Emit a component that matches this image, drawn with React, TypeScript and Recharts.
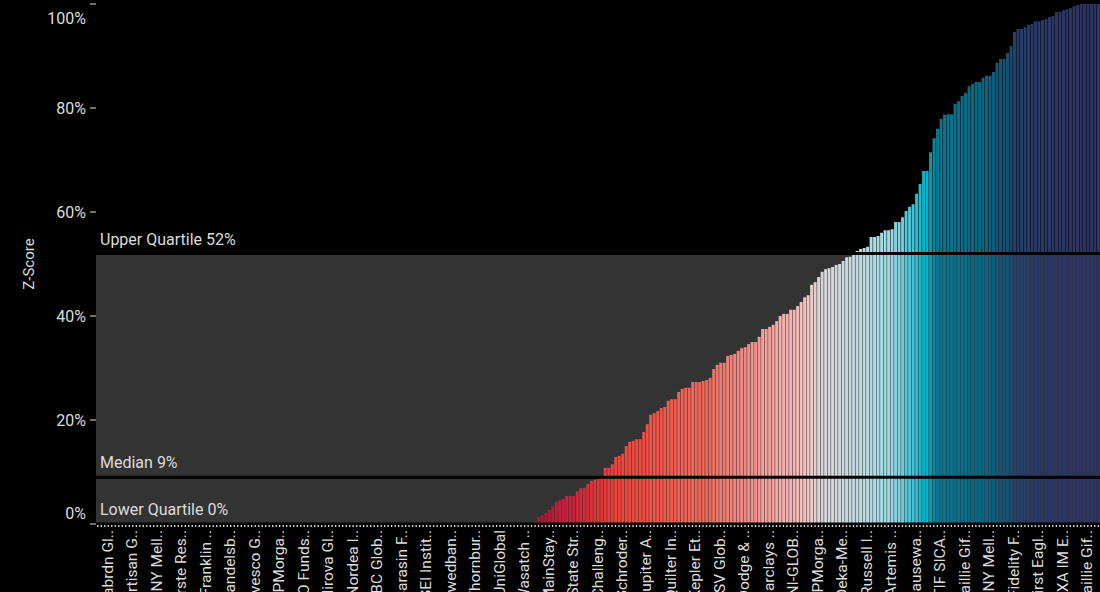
import { BarChart, Bar, Cell, XAxis, YAxis, ReferenceArea, ReferenceLine, Label } from "recharts";

// fund labels shown under every 7th bar
const tickLabels = [
  "abrdn Gl..", "Artisan G..", "BNY Mell..", "Erste Res..", "Franklin ..", "Handelsb..",
  "Invesco G..", "JPMorga..", "LO Funds..", "Mirova Gl..", "Nordea I..", "RBC Glob..",
  "Sarasin F..", "SEI Instit..", "Swedban..", "Thornbur..", "UniGlobal", "Wasatch ..",
  "MainStay..", "State Str..", "Challeng..", "Schroder..", "Jupiter A..", "Quilter In..",
  "Kepler Et..", "LSV Glob..", "Dodge & ..", "Barclays ..", "UNI-GLOB..", "JPMorga..",
  "Deka-Me..", "Russell I..", "Artemis ..", "Hausewa..", "LTIF SICA..", "Baillie Gif..",
  "BNY Mell..", "Fidelity F..", "First Eagl..", "AXA IM E..", "Baillie Gif..",
];

// funds with a score of 0%
const zeroScores = [
  0, 0, 0, 0, 0, 0, 0, 0, 0, 0, 0, 0, 0, 0, 0, 0, 0, 0, 0, 0, 0, 0, 0, 0, 0,
  0, 0, 0, 0, 0, 0, 0, 0, 0, 0, 0, 0, 0, 0, 0, 0, 0, 0, 0, 0, 0, 0, 0, 0, 0,
  0, 0, 0, 0, 0, 0, 0, 0, 0, 0, 0, 0, 0, 0, 0, 0, 0, 0, 0, 0, 0, 0, 0, 0, 0,
  0, 0, 0, 0, 0, 0, 0, 0, 0, 0, 0, 0, 0, 0, 0, 0, 0, 0, 0, 0, 0, 0, 0, 0, 0,
  0, 0, 0, 0, 0, 0, 0, 0, 0, 0, 0, 0, 0, 0, 0, 0, 0, 0, 0, 0, 0, 0, 0, 0, 0,
];

// remaining funds, sorted ascending (%)
const positiveScores = [
  0.5, 1.3, 1.7, 2.1, 2.7, 3.4, 4.2, 4.6, 4.8, 5.4,
  5.4, 5.4, 6.3, 6.9, 6.9, 7.7, 8.3, 8.5, 8.7, 9.0,
  10.8, 10.8, 11.5, 12.9, 13.1, 13.5, 15.0, 15.8, 16.0, 16.3,
  16.3, 17.7, 19.2, 21.0, 21.3, 21.7, 22.3, 22.5, 23.7, 24.0,
  24.0, 25.4, 26.0, 26.2, 26.2, 27.3, 27.3, 27.3, 27.5, 27.7,
  28.1, 29.8, 30.6, 31.0, 31.0, 32.3, 32.5, 32.7, 33.3, 33.8,
  34.0, 34.6, 35.0, 35.0, 36.0, 37.5, 37.5, 37.9, 38.3, 39.0,
  40.0, 40.4, 40.4, 41.2, 41.2, 41.9, 42.7, 43.6, 44.0, 46.0,
  46.5, 47.5, 48.5, 49.0, 49.2, 49.4, 49.8, 50.0, 50.6, 51.3,
  51.4, 52.2, 52.5, 52.9, 53.1, 53.3, 55.2, 55.2, 55.4, 56.0,
  56.5, 56.5, 56.7, 58.1, 58.1, 59.0, 60.2, 61.0, 61.5, 63.5,
  65.4, 67.9, 67.9, 71.5, 74.2, 76.0, 77.9, 78.7, 78.8, 78.8,
  80.8, 81.3, 82.3, 82.9, 84.2, 84.6, 85.0, 85.0, 85.8, 86.2,
  86.2, 86.9, 88.7, 89.4, 89.4, 90.6, 91.9, 94.6, 95.2, 95.2,
  95.6, 96.0, 96.2, 96.7, 96.7, 96.9, 97.1, 97.5, 97.7, 98.5,
  98.5, 98.8, 99.0, 99.2, 99.6, 99.8, 100, 100, 100, 100,
  100, 100,
];

const lowerQuartile = 0;
const median = 9;
const upperQuartile = 52;
const yTicks = [0, 20, 40, 60, 80, 100];

const colorStops: [number, string][] = [
  [0, "#a0103a"], [4, "#c41a3a"], [8, "#e02f38"], [12, "#f2413a"], [20, "#f44f42"],
  [28, "#f2685a"], [31, "#f07a70"], [36, "#f39890"], [40, "#f5b0ac"], [44, "#f6c4c3"],
  [47.5, "#ddd3d6"], [52, "#c3d9df"], [55, "#b0dde6"], [57.5, "#93d5e2"], [59.5, "#60c9da"],
  [63.5, "#20bfd3"], [68, "#0fb1c8"], [72, "#0a95ac"], [76, "#0b7993"], [85, "#0b6883"],
  [88, "#0f5c7b"], [90.6, "#1a4f72"], [95, "#243f6a"], [97, "#2a3865"], [100, "#2d3460"],
];

function hexToRgb(h: string) {
  return [1, 3, 5].map((i) => parseInt(h.slice(i, i + 2), 16));
}

function scoreColor(v: number): string {
  for (let i = 1; i < colorStops.length; i++) {
    const [v1, c1] = colorStops[i];
    if (v <= v1) {
      const [v0, c0] = colorStops[i - 1];
      const t = (v - v0) / (v1 - v0);
      const a = hexToRgb(c0);
      const b = hexToRgb(c1);
      return `rgb(${a.map((x, k) => Math.round(x + (b[k] - x) * t)).join(",")})`;
    }
  }
  return colorStops[colorStops.length - 1][1];
}

const scores = [...zeroScores, ...positiveScores];
const data = scores.map((score, idx) => ({ idx, score }));

const FONT = "Roboto, 'DejaVu Sans', sans-serif";
const TEXT = "#dcdcdc";

function FundTick(props: any) {
  const { x, y, payload } = props;
  const i = payload.value as number;
  const label = i % 7 === 0 ? tickLabels[i / 7] : null;
  const lx = x + 10;
  const ly = y + 6;
  return (
    <g>
      <rect x={x - 0.6} y={y + 1} width={1.3} height={2} fill={TEXT} />
      {label && (
        <text
          x={lx} y={ly} transform={`rotate(-90, ${lx}, ${ly})`}
          textAnchor="end" dominantBaseline="central"
          fill={TEXT} fontSize={15.5} fontFamily={FONT}
        >
          {label}
        </text>
      )}
    </g>
  );
}

function ScoreTick(props: any) {
  const { x, y, payload } = props;
  // keep the extreme labels inside the plot
  const shift = payload.value === 100 ? 9 : payload.value === 0 ? -11 : 0;
  return (
    <text x={x - 2} y={y + shift} textAnchor="end" dominantBaseline="central"
      fill={TEXT} fontSize={16} fontFamily={FONT}>
      {`${payload.value}%`}
    </text>
  );
}

function quartileLabel(text: string) {
  return (p: any) => (
    <text x={p.viewBox.x + 4} y={p.viewBox.y - 9} fill={TEXT} fontSize={16} fontFamily={FONT}>
      {text}
    </text>
  );
}

export default function App() {
  return (
    <div style={{ position: "absolute", left: 0, top: 0, width: 1100, height: 592, background: "#000" }}>
      <BarChart
        width={1100} height={592} data={data}
        margin={{ top: 4, right: 0, left: 0, bottom: 0 }}
        barCategoryGap="14%"
      >
        <XAxis
          dataKey="idx" interval={0} height={68}
          tick={<FundTick />} tickLine={false} axisLine={false}
          tickSize={0} tickMargin={0}
        />
        <YAxis
          width={96} domain={[0, 100]} ticks={yTicks}
          tick={<ScoreTick />} tickLine={{ stroke: TEXT }} axisLine={false}
          tickSize={6} tickMargin={2}
        >
          <Label
            content={(p: any) => {
              const vb = p.viewBox;
              const cx = 29;
              const cy = vb.y + vb.height / 2;
              return (
                <text x={cx} y={cy} transform={`rotate(-90, ${cx}, ${cy})`} textAnchor="middle"
                  dominantBaseline="central" fill={TEXT} fontSize={15} fontFamily={FONT}>
                  Z-Score
                </text>
              );
            }}
          />
        </YAxis>
        <ReferenceArea y1={lowerQuartile} y2={upperQuartile} fill="#333333" fillOpacity={1} stroke="none" />
        <Bar dataKey="score" isAnimationActive={false}>
          {data.map((d) => (
            <Cell key={d.idx} fill={scoreColor(d.score)} />
          ))}
        </Bar>
        <ReferenceLine y={lowerQuartile} stroke="#000" strokeWidth={3} label={quartileLabel(`Lower Quartile ${lowerQuartile}%`)} />
        <ReferenceLine y={median} stroke="#000" strokeWidth={3} label={quartileLabel(`Median ${median}%`)} />
        <ReferenceLine y={upperQuartile} stroke="#000" strokeWidth={3} label={quartileLabel(`Upper Quartile ${upperQuartile}%`)} />
      </BarChart>
    </div>
  );
}
